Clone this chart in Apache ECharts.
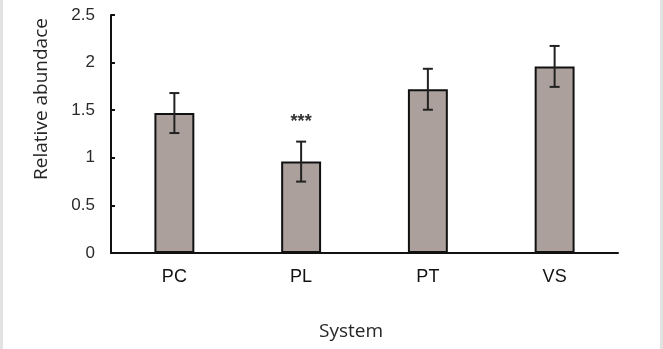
<!DOCTYPE html>
<html>
<head>
<meta charset="utf-8">
<script src="https://cdn.jsdelivr.net/npm/echarts@6/dist/echarts.min.js"></script>
<style>
  html, body { margin: 0; padding: 0; background: #fff; }
  #main { width: 663px; height: 349px; }
</style>
</head>
<body>
<div id="main"></div>
<script>
// data
var systems = ['PC', 'PL', 'PT', 'VS'];
var abundance = [1.47, 0.96, 1.72, 1.96];
var errors = [0.21, 0.21, 0.215, 0.215];
var signif = ['', '***', '', ''];
var yTicks = [0, 0.5, 1, 1.5, 2, 2.5];

var myChart = echarts.init(document.getElementById('main'));

var errData = systems.map(function (s, i) {
  return [i, abundance[i] - errors[i], abundance[i] + errors[i], signif[i]];
});

var option = {
  backgroundColor: '#ffffff',
  animation: false,
  grid: {
    left: 111,
    right: 45,
    top: 15,
    bottom: 96
  },
  xAxis: {
    type: 'category',
    data: systems,
    axisLine: { lineStyle: { color: '#111', width: 2 } },
    axisTick: { inside: true, length: 4, lineStyle: { color: '#111', width: 2 } },
    axisLabel: {
      color: '#111',
      fontSize: 18,
      fontFamily: 'Liberation Sans',
      margin: 15
    }
  },
  yAxis: {
    type: 'value',
    min: yTicks[0],
    max: yTicks[yTicks.length - 1],
    interval: 0.5,
    splitLine: { show: false },
    axisLine: { show: true, lineStyle: { color: '#111', width: 2 } },
    axisTick: { show: true, inside: true, length: 4, lineStyle: { color: '#111', width: 2 } },
    axisLabel: {
      color: '#2a2a2a',
      fontSize: 17,
      fontFamily: 'Liberation Sans',
      margin: 16
    }
  },
  graphic: [
    { type: 'rect', left: 0, top: 0, shape: { width: 3, height: 349 }, style: { fill: '#e2e2e2' } },
    { type: 'rect', left: 660, top: 0, shape: { width: 3, height: 349 }, style: { fill: '#e2e2e2' } },
    {
      type: 'text', x: 42, y: 99, rotation: Math.PI / 2,
      style: {
        text: 'Relative abundace', fill: '#262626', fontSize: 19,
        fontFamily: 'Open Sans', align: 'center', verticalAlign: 'middle'
      }
    },
    {
      type: 'text', x: 351, y: 332,
      style: {
        text: 'System', fill: '#262626', fontSize: 19,
        fontFamily: 'Open Sans', align: 'center', verticalAlign: 'middle'
      }
    }
  ],
  series: [{
    name: 'abundance',
    type: 'bar',
    data: abundance,
    barWidth: '31.5%',
    itemStyle: {
      color: '#aba09b',
      borderColor: '#111',
      borderWidth: 2
    },
    z: 2
  }, {
    name: 'error',
    type: 'custom',
    data: errData,
    z: 3,
    renderItem: function (params, api) {
      var x = api.value(0);
      var lo = api.coord([x, api.value(1)]);
      var hi = api.coord([x, api.value(2)]);
      var half = 5;
      var st = { stroke: '#222', lineWidth: 2 };
      var children = [
        { type: 'line', shape: { x1: lo[0], y1: lo[1], x2: hi[0], y2: hi[1] }, style: st },
        { type: 'line', shape: { x1: hi[0] - half, y1: hi[1], x2: hi[0] + half, y2: hi[1] }, style: st },
        { type: 'line', shape: { x1: lo[0] - half, y1: lo[1], x2: lo[0] + half, y2: lo[1] }, style: st }
      ];
      var mark = api.value(3);
      if (mark) {
        children.push({
          type: 'text',
          x: hi[0], y: hi[1] - 20,
          style: {
            text: mark, fill: '#333', fontSize: 18, fontWeight: 'bold',
            fontFamily: 'Liberation Sans', align: 'center', verticalAlign: 'middle'
          }
        });
      }
      return { type: 'group', children: children };
    }
  }]
};

myChart.setOption(option);
window.addEventListener('resize', function () {
  myChart.resize();
});
</script>
</body>
</html>
